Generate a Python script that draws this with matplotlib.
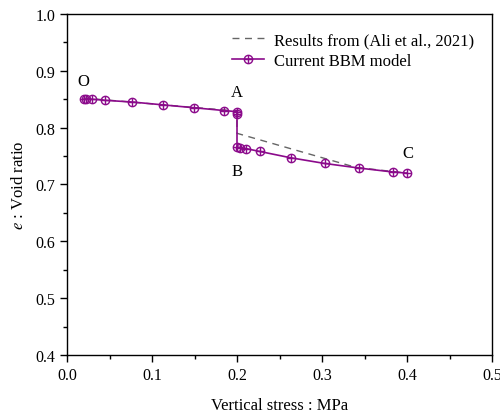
import matplotlib
matplotlib.use("Agg")
import matplotlib.pyplot as plt
from matplotlib.path import Path
from matplotlib.ticker import MultipleLocator, FormatStrFormatter

plt.rcParams['font.family'] = ['Liberation Serif', 'DejaVu Serif']
plt.rcParams['mathtext.fontset'] = 'stix'

# Results from (Ali et al., 2021)
ref_stress = [0.02, 0.2, 0.2, 0.34, 0.4]
ref_e = [0.852, 0.829, 0.79, 0.73, 0.72]

# Current BBM model
bbm_stress = [0.02, 0.022, 0.029, 0.045, 0.077, 0.113, 0.149, 0.185, 0.2, 0.2,
              0.2, 0.203, 0.211, 0.227, 0.263, 0.303, 0.343, 0.383, 0.4]
bbm_e = [0.850, 0.850, 0.850, 0.848, 0.845, 0.840, 0.835, 0.830, 0.828, 0.824,
         0.766, 0.765, 0.763, 0.758, 0.747, 0.737, 0.729, 0.722, 0.720]

point_labels = ['O', 'A', 'B', 'C']
label_xy = [(0.019, 0.882), (0.2, 0.863), (0.2, 0.724), (0.401, 0.756)]

# circle with a plus inside
M, L = Path.MOVETO, Path.LINETO
oplus = Path.make_compound_path(
    Path.unit_circle(),
    Path([[-1, 0], [1, 0]], [M, L]),
    Path([[0, -1], [0, 1]], [M, L]),
)

purple = '#8B0A8B'

fig = plt.figure(figsize=(5, 4.14), dpi=100)
ax = fig.add_axes([0.134, 0.14, 0.85, 0.824])

ax.plot(ref_stress, ref_e, ls=(0, (5, 4)), color='#666666', lw=1.0,
        label='Results from (Ali et al., 2021)')
ax.plot(bbm_stress, bbm_e, color=purple, lw=1.2, marker=oplus, ms=6,
        mfc='none', mec=purple, mew=1.0, label='Current BBM model')

for t, (x, y) in zip(point_labels, label_xy):
    ax.text(x, y, t, fontsize=12, ha='center', va='center')

ax.set_xlim(0, 0.5)
ax.set_ylim(0.4, 1.0)
ax.xaxis.set_major_locator(MultipleLocator(0.1))
ax.xaxis.set_minor_locator(MultipleLocator(0.05))
ax.yaxis.set_major_locator(MultipleLocator(0.1))
ax.yaxis.set_minor_locator(MultipleLocator(0.05))
ax.xaxis.set_major_formatter(FormatStrFormatter('%.1f'))
ax.yaxis.set_major_formatter(FormatStrFormatter('%.1f'))
ax.tick_params(which='major', direction='out', length=5, width=1, labelsize=11.5)
ax.tick_params(which='minor', direction='out', length=3, width=1)
for s in ax.spines.values():
    s.set_linewidth(1)

ax.set_xlabel('Vertical stress : MPa', fontsize=12, labelpad=10)
ax.set_ylabel('$e$ : Void ratio', fontsize=12, labelpad=6)

ax.legend(loc='upper right', frameon=False, fontsize=12,
          handlelength=1.9, handletextpad=0.6, borderaxespad=0.7,
          labelspacing=0.3)

fig.savefig('out.png', dpi=100)
